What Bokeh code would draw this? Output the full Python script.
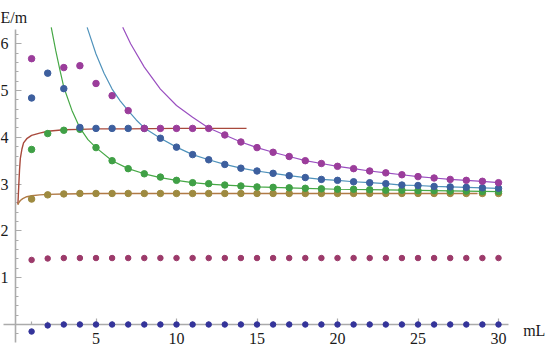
from bokeh.plotting import figure
from bokeh.models import LinearAxis, FixedTicker, Range1d, Label
from bokeh.embed import file_html
from bokeh.resources import INLINE

nan = float("nan")

# ---- data ----
mL = list(range(1, 31))

navy_pts = [-0.15, -0.02] + [0.0] * 28
crimson_pts = [1.38, 1.41] + [1.42] * 28
gold_pts = [2.68, 2.77, 2.79] + [2.80] * 27
green_pts = [3.74, 4.08, 4.15, 4.17, 3.78, 3.50, 3.33, 3.22, 3.15, 3.08,
             3.03, 3.01, 2.98, 2.96, 2.94, 2.93, 2.92, 2.91, 2.90, 2.89,
             2.89, 2.88, 2.87, 2.87, 2.86, 2.86, 2.85, 2.85, 2.84, 2.84]
blue_pts = [4.84, 5.37, 5.04, 4.21, 4.19, 4.19, 4.19, 4.19, 3.98, 3.79,
            3.63, 3.52, 3.42, 3.34, 3.28, 3.23, 3.18, 3.14, 3.10, 3.08,
            3.05, 3.03, 3.01, 2.98, 2.97, 2.95, 2.94, 2.93, 2.92, 2.91]
purple_pts = [5.68, nan, 5.49, 5.53, 5.15, 4.89, 4.57, 4.19, 4.19, 4.19,
              4.19, 4.19, 4.05, 3.90, 3.78, 3.68, 3.59, 3.50, 3.44, 3.38,
              3.33, 3.28, 3.24, 3.20, 3.16, 3.13, 3.10, 3.08, 3.06, 3.03]

red_line_x = [0.15, 0.2, 0.25, 0.3, 0.4, 0.5, 0.7, 1.0, 1.5, 2, 3, 4, 5, 7, 10, 14.35]
red_line_y = [2.57, 2.95, 3.30, 3.55, 3.75, 3.88, 3.97, 4.04, 4.09, 4.13, 4.16, 4.17, 4.18, 4.18, 4.19, 4.19]

gold_line_x = [0.15, 0.2, 0.3, 0.45, 0.7, 1.0, 1.5, 2, 3, 5, 10, 28.7]
gold_line_y = [2.56, 2.60, 2.65, 2.69, 2.73, 2.75, 2.77, 2.78, 2.79, 2.80, 2.80, 2.80]

green_line_x = [2.22, 2.5, 2.75, 3, 3.5, 4, 4.5, 5, 6, 7, 8, 9, 10, 11, 12, 13, 14, 15, 16,
                18, 20, 22, 24, 26, 28, 30]
green_line_y = [6.35, 5.85, 5.45, 5.07, 4.58, 4.20, 3.95, 3.78, 3.50, 3.33, 3.22, 3.14, 3.08,
                3.03, 3.00, 2.98, 2.96, 2.94, 2.93, 2.91, 2.89, 2.88, 2.87, 2.86, 2.85, 2.84]

blue_line_x = [4.45, 5, 5.5, 6, 6.5, 7, 7.5, 8, 9, 10, 11, 12, 13, 14, 15, 16, 17, 18, 19, 20,
               21, 22, 23, 24, 25, 26, 27, 28, 29, 30]
blue_line_y = [6.35, 5.78, 5.37, 5.03, 4.78, 4.57, 4.37, 4.20, 3.98, 3.79, 3.63, 3.52, 3.42,
               3.34, 3.28, 3.23, 3.18, 3.14, 3.10, 3.08, 3.05, 3.03, 3.01, 2.98, 2.97, 2.95,
               2.94, 2.93, 2.92, 2.91]

purple_line_x = [6.66, 7.15, 8, 9, 10, 11, 12, 13, 14, 15, 16, 17, 18, 19, 20, 21, 22, 23, 24,
                 25, 26, 27, 28, 29, 30]
purple_line_y = [6.35, 6.00, 5.50, 5.03, 4.68, 4.43, 4.20, 4.05, 3.90, 3.78, 3.68, 3.59, 3.50,
                 3.44, 3.38, 3.33, 3.28, 3.24, 3.20, 3.16, 3.13, 3.10, 3.08, 3.06, 3.03]

x_major = [5, 10, 15, 20, 25, 30]
x_minor = [v for v in range(1, 31) if v % 5 != 0]
y_major = [1, 2, 3, 4, 5, 6]
y_minor = [round(-0.2 + 0.2 * i, 1) for i in range(33)
           if abs((-0.2 + 0.2 * i) - round(-0.2 + 0.2 * i)) > 1e-6]

# ---- layout constants (figure spans the whole picture) ----
W, H = 545, 348
X0, X1 = -0.9317, 32.919
Y0, Y1 = -0.5128, 6.923

p = figure(width=W, height=H, x_range=Range1d(X0, X1), y_range=Range1d(Y0, Y1),
           output_backend="svg", toolbar_location=None,
           x_axis_location=None, y_axis_location=None, min_border=0,
           outline_line_color=None)
p.xgrid.visible = False
p.ygrid.visible = False

AX = "#ababab"
FONT = "Liberation Serif"

def style_axis(ax):
    ax.level = "underlay"
    ax.axis_line_color = AX
    ax.axis_line_width = 1.6
    ax.major_tick_line_color = AX
    ax.minor_tick_line_color = AX
    ax.major_tick_line_width = 1.2
    ax.minor_tick_line_width = 1.2
    ax.major_tick_in = 6
    ax.major_tick_out = 0
    ax.minor_tick_in = 3
    ax.minor_tick_out = 0
    ax.major_label_text_font = FONT
    ax.major_label_text_font_size = "16px"
    ax.major_label_text_color = "#1a1a1a"

xaxis = LinearAxis(fixed_location=0, bounds=(-0.745, 30.6),
                   ticker=FixedTicker(ticks=x_major, minor_ticks=x_minor))
style_axis(xaxis)
xaxis.major_label_standoff = 8
p.add_layout(xaxis, "below")

yaxis = LinearAxis(fixed_location=0, bounds=(-0.385, 6.30),
                   ticker=FixedTicker(ticks=y_major, minor_ticks=y_minor))
style_axis(yaxis)
yaxis.major_label_standoff = 7
p.add_layout(yaxis, "left")

# ---- lines ----
p.line(red_line_x, red_line_y, line_color="#a8493c", line_width=1.4)
p.line(gold_line_x, gold_line_y, line_color="#b07a45", line_width=1.4)
p.line(green_line_x, green_line_y, line_color="#46a846", line_width=1.2)
p.line(blue_line_x, blue_line_y, line_color="#4f92bb", line_width=1.2)
p.line(purple_line_x, purple_line_y, line_color="#9a4fc0", line_width=1.2)

# ---- points ----
p.scatter(mL, navy_pts, size=5.5, color="#34349a")
p.scatter(mL, crimson_pts, size=5.5, color="#9c3a6a")
p.scatter(mL, gold_pts, size=6.5, color="#9e8a40")
p.scatter(mL, green_pts, size=6.5, color="#40a046")
p.scatter(mL, blue_pts, size=6.5, color="#3d5f9e")
p.scatter(mL, purple_pts, size=6.5, color="#9b3d9b")

# ---- axis titles ----
p.add_layout(Label(x=X0, y=6.56, text="E/m", text_font=FONT, text_font_size="16px",
                   text_color="#1a1a1a", text_baseline="alphabetic"))
p.add_layout(Label(x=31.53, y=-0.128, text="mL", text_font=FONT, text_font_size="16px",
                   text_color="#1a1a1a", text_baseline="alphabetic"))

open("out.html", "w").write(file_html(p, INLINE))
